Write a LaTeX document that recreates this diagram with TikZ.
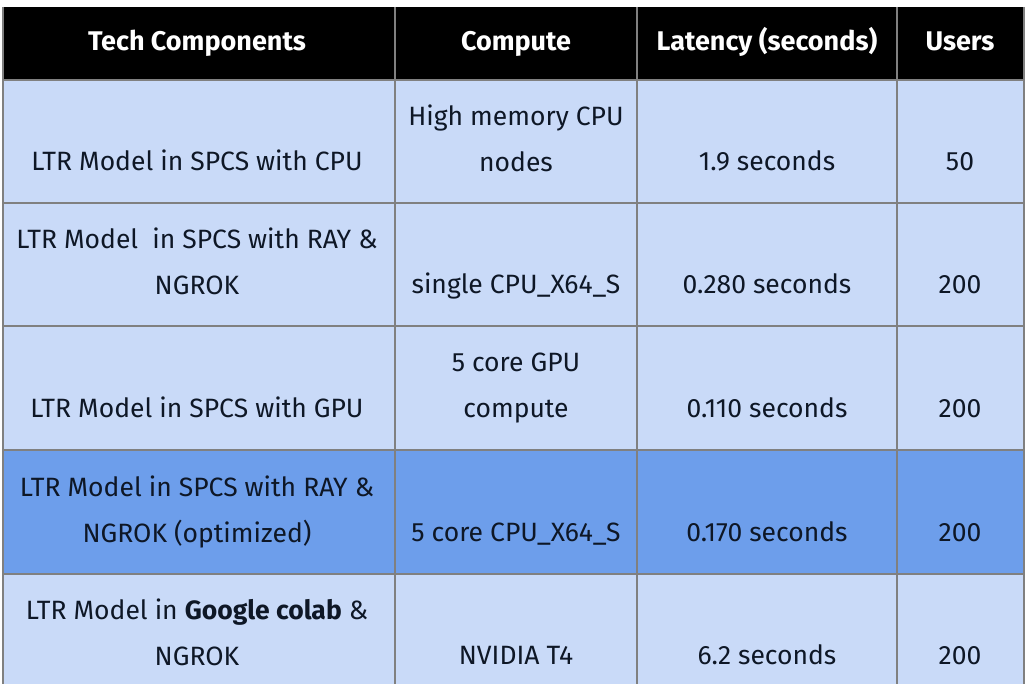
\documentclass[tikz,border=0pt]{standalone}
\usepackage{fontspec}
\setmainfont{Fira Sans}
\usepackage{tikz}

\definecolor{rowblue}{HTML}{C9DAF8}
\definecolor{pickblue}{HTML}{6D9EEB}
\definecolor{rulegrey}{HTML}{808080}
\definecolor{inkblue}{HTML}{0E1726}

\tikzset{
  head/.style={text=white,font=\fontsize{27}{46}\selectfont\bfseries,
    execute at begin node=\strut},
  cell/.style={text=inkblue,font=\fontsize{26.5}{46}\selectfont,align=center,
    execute at begin node=\strut,execute at end node=\strut},
  ruleline/.style={rulegrey,line width=1.2pt}
}

\begin{document}
\begin{tikzpicture}[x=1pt,y=-1pt]
\useasboundingbox (0,0) rectangle (1026,690);
\fill[white] (0,0) rectangle (1026,690);

\fill[black] (3,7) rectangle (1024,80);
\fill[rowblue] (3,80) rectangle (1024,684);
\fill[pickblue] (3,450) rectangle (1024,574);

\draw[ruleline] (3,80) -- (1024,80);
\draw[ruleline] (3,203) -- (1024,203);
\draw[ruleline] (3,326) -- (1024,326);
\draw[ruleline] (3,450) -- (1024,450);
\draw[ruleline] (3,574) -- (1024,574);
\draw[ruleline] (3,7) -- (3,684);
\draw[ruleline] (395,7) -- (395,684);
\draw[ruleline] (637,7) -- (637,684);
\draw[ruleline] (897,7) -- (897,684);
\draw[ruleline] (1024,7) -- (1024,684);

% header
\node[head] (tech) at (197,41) {Tech Components};
\node[head] (compute) at (516,41) {Compute};
\node[head] (latency) at (767,41) {Latency (seconds)};
\node[head] (users) at (960,41) {Users};

% row 1
\node[cell] (ltrcpu) at (197,161) {LTR Model in SPCS with CPU};
\node[cell] (himem) at (516,145) {High memory CPU\\nodes};
\node[cell] (latcpu) at (767,161) {1.9 seconds};
\node[cell] (usrcpu) at (960,161) {50};

% row 2
\node[cell] (ltrray) at (197,268) {LTR Model\ \ in SPCS with RAY \&\\NGROK};
\node[cell] (single) at (516,284) {single CPU\_X64\_S};
\node[cell] (latray) at (767,284) {0.280 seconds};
\node[cell] (usrray) at (960,284) {200};

% row 3
\node[cell] (ltrgpu) at (197,408) {LTR Model in SPCS with GPU};
\node[cell] (gpu) at (516,392) {5 core GPU\\compute};
\node[cell] (latgpu) at (767,408) {0.110 seconds};
\node[cell] (usrgpu) at (960,408) {200};

% row 4 (optimized)
\node[cell] (ltropt) at (197,516) {LTR Model in SPCS with RAY \&\\NGROK (optimized)};
\node[cell] (fivecpu) at (516,532) {5 core CPU\_X64\_S};
\node[cell] (latopt) at (767,532) {0.170 seconds};
\node[cell] (usropt) at (960,532) {200};

% row 5
\node[cell] (ltrcolab) at (197,639) {LTR Model in \textbf{Google colab} \&\\NGROK};
\node[cell] (nvidia) at (516,655) {NVIDIA T4};
\node[cell] (latcolab) at (767,655) {6.2 seconds};
\node[cell] (usrcolab) at (960,655) {200};
\end{tikzpicture}
\end{document}
